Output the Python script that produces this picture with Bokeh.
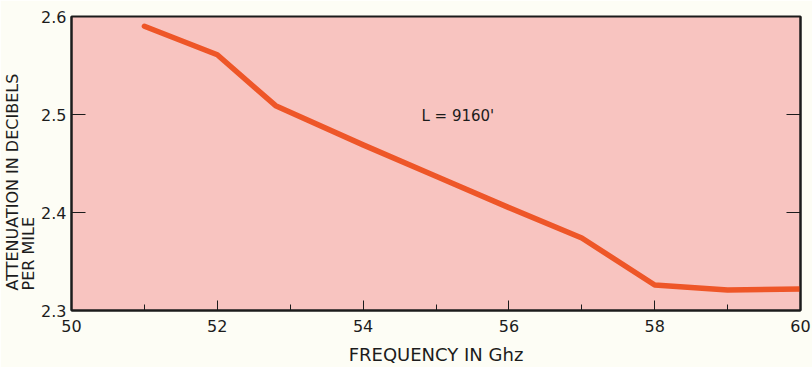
from bokeh.plotting import figure
from bokeh.models import Range1d, LinearAxis, SingleIntervalTicker, FixedTicker, Label, Title, ColumnDataSource
from bokeh.embed import file_html
from bokeh.resources import INLINE

# Data
frequency_ghz = [51, 52, 52.8, 54, 55, 56, 57, 58, 59, 60]
attenuation_db = [2.590, 2.561, 2.509, 2.469, 2.437, 2.405, 2.374, 2.326, 2.321, 2.322]
y_ticks = [2.3, 2.4, 2.5, 2.6]
y_title_lines = ["ATTENUATION IN DECIBELS", "PER MILE"]

FONT = "DejaVu Sans"
INK = "#1c1c1c"
PINK = "#f8c4c0"
PAPER = "#fdfdf5"
LINE = "#ee5628"

p = figure(width=812, height=367, output_backend="svg", toolbar_location=None,
           x_range=Range1d(50, 60), y_range=Range1d(2.3, 2.6),
           min_border_left=70, min_border_right=12, min_border_top=16, min_border_bottom=55)
p.background_fill_color = PINK
p.border_fill_color = PAPER
p.outline_line_color = INK
p.outline_line_width = 2
p.grid.visible = False

src = ColumnDataSource(dict(x=frequency_ghz, y=attenuation_db))
p.line("x", "y", source=src, line_color=LINE, line_width=5.5, line_cap="round", line_join="round")

# x axis
xa = p.xaxis[0]
xa.ticker = SingleIntervalTicker(interval=2, num_minor_ticks=2)
xa.major_tick_in = 10
xa.major_tick_out = 0
xa.minor_tick_in = 6
xa.minor_tick_out = 0
xa.axis_line_width = 2
xa.axis_line_color = INK
xa.major_tick_line_color = INK
xa.minor_tick_line_color = INK
xa.major_label_text_font = FONT
xa.major_label_text_font_size = "16px"
xa.major_label_text_color = INK
xa.major_label_standoff = 9
xa.axis_label = "FREQUENCY IN Ghz"
xa.axis_label_text_font = FONT
xa.axis_label_text_font_size = "18px"
xa.axis_label_text_font_style = "normal"
xa.axis_label_text_color = INK
xa.axis_label_standoff = 9

# y axis
ya = p.yaxis[0]
ya.ticker = FixedTicker(ticks=y_ticks)
ya.major_tick_in = 14
ya.major_tick_out = 0
ya.minor_tick_line_color = None
ya.axis_line_width = 2
ya.axis_line_color = INK
ya.major_tick_line_color = INK
ya.major_label_text_font = FONT
ya.major_label_text_font_size = "16px"
ya.major_label_text_color = INK
ya.major_label_standoff = 5

# right axis (ticks only)
ra = LinearAxis(ticker=FixedTicker(ticks=y_ticks))
ra.major_tick_in = 14
ra.major_tick_out = 0
ra.minor_tick_line_color = None
ra.axis_line_width = 2
ra.axis_line_color = INK
ra.major_tick_line_color = INK
ra.major_label_overrides = {t: "" for t in y_ticks}
ra.major_label_text_font_size = "1px"
ra.major_label_standoff = 0
p.add_layout(ra, "right")

# y axis title, two lines, aligned at the bottom
p.add_layout(Title(text="\n".join(y_title_lines), align="left", offset=20, standoff=0,
                   text_font=FONT, text_font_size="16px", text_font_style="normal",
                   text_line_height=0.88, text_color=INK), "left")

p.add_layout(Label(x=54.8, y=2.498, text="L = 9160'", text_align="left", text_baseline="middle",
                   text_font=FONT, text_font_size="15px", text_color=INK))

open("out.html", "w").write(file_html(p, INLINE))
